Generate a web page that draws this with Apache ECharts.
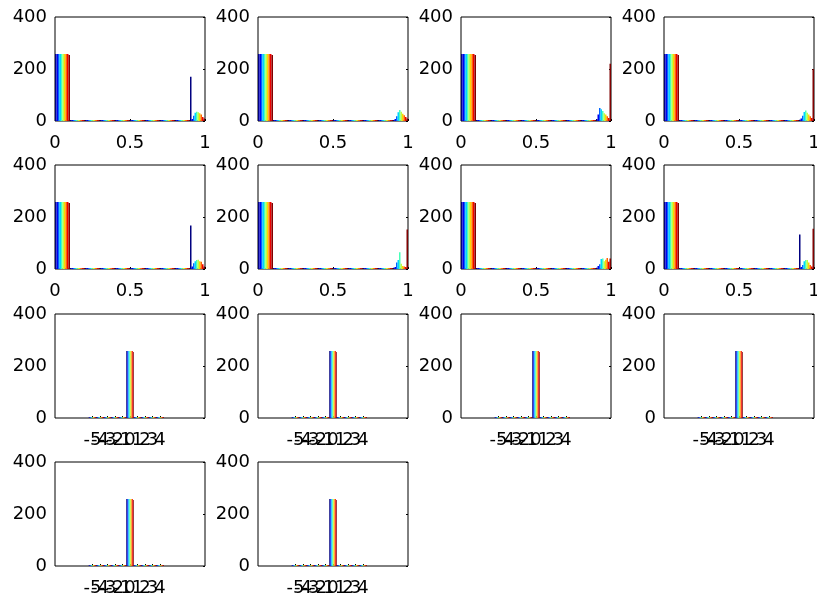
<!DOCTYPE html>
<html>
<head>
<meta charset="utf-8">
<script src="https://cdn.jsdelivr.net/npm/echarts@6/dist/echarts.min.js"></script>
<style>
html,body{margin:0;padding:0;background:#fff;}
#c{width:817px;height:600px;}
</style>
</head>
<body>
<div id="c"></div>
<script>
// ---- data ----
// bin centres
const binsFrac = [0.05, 0.15, 0.25, 0.35, 0.45, 0.55, 0.65, 0.75, 0.85, 0.95];
const binsInt = [-5, -4, -3, -2, -1, 0, 1, 2, 3, 4];
// x positions of the integer axis (axis runs -10 .. 10)
const xCatsInt = ['-10','-9','-8','-7','-6','-5','-4','-3','-2','-1','0','1','2','3','4','5','6','7','8','9','10'];
// tick labels
const xTicksFrac = [0, 0.5, 1];
const xTicksInt = ['-5', '-4', '-3', '-2', '-1', '0', '1', '2', '3', '4'];
const yTicks = [0, 200, 400];

// counts: one row per bin, 10 values per row (one per column/series)
const hist1 = [
  [258,258,258,258,258,258,258,258,258,254],
  [0,0,0,0,0,0,0,0,0,0],
  [0,0,0,0,0,0,0,0,0,0],
  [0,0,0,0,0,0,0,0,0,0],
  [0,0,0,0,0,0,0,0,0,0],
  [0,0,0,0,0,0,0,0,0,0],
  [0,0,0,0,0,0,0,0,0,0],
  [0,0,0,0,0,0,0,0,0,0],
  [0,0,0,0,0,0,0,0,0,0],
  [170,8,20,32,36,34,30,25,15,10]
];
const hist2 = [
  [258,258,258,258,258,258,258,258,258,254],
  [0,0,0,0,0,0,0,0,0,0],
  [0,0,0,0,0,0,0,0,0,0],
  [0,0,0,0,0,0,0,0,0,0],
  [0,0,0,0,0,0,0,0,0,0],
  [0,0,0,0,0,0,0,0,0,0],
  [0,0,0,0,0,0,0,0,0,0],
  [0,0,0,0,0,0,0,0,0,0],
  [0,0,2,2,0,0,0,0,0,0],
  [4,8,18,34,42,36,28,22,15,10]
];
const hist3 = [
  [258,258,258,258,258,258,258,258,258,254],
  [0,0,0,0,0,0,0,0,0,0],
  [0,0,0,0,0,0,0,0,0,0],
  [0,0,0,0,0,0,0,0,0,0],
  [0,0,0,0,0,0,0,0,0,0],
  [0,0,0,0,0,0,0,0,0,0],
  [0,0,0,0,0,0,0,0,0,0],
  [0,0,0,0,0,0,0,0,0,0],
  [0,2,4,3,0,0,0,0,0,0],
  [8,25,50,45,38,30,25,18,12,220]
];
const hist4 = [
  [258,258,258,258,258,258,258,258,258,254],
  [0,0,0,0,0,0,0,0,0,0],
  [0,0,0,0,0,0,0,0,0,0],
  [0,0,0,0,0,0,0,0,0,0],
  [0,0,0,0,0,0,0,0,0,0],
  [0,0,0,0,0,0,0,0,0,0],
  [0,0,0,0,0,0,0,0,0,0],
  [0,0,0,0,0,0,0,0,0,0],
  [0,0,2,2,0,0,0,0,0,0],
  [5,10,20,35,40,32,25,18,12,200]
];
const hist5 = [
  [258,258,258,258,258,258,258,258,258,254],
  [0,0,0,0,0,0,0,0,0,0],
  [0,0,0,0,0,0,0,0,0,0],
  [0,0,0,0,0,0,0,0,0,0],
  [0,0,0,0,0,0,0,0,0,0],
  [0,0,0,0,0,0,0,0,0,0],
  [0,0,0,0,0,0,0,0,0,0],
  [0,0,0,0,0,0,0,0,0,0],
  [0,0,0,0,0,0,0,0,0,0],
  [167,10,22,30,35,36,30,28,18,10]
];
const hist6 = [
  [258,258,258,258,258,258,258,258,258,254],
  [0,0,0,0,0,0,0,0,0,0],
  [0,0,0,0,0,0,0,0,0,0],
  [0,0,0,0,0,0,0,0,0,0],
  [0,0,0,0,0,0,0,0,0,0],
  [0,0,0,0,0,0,0,0,0,0],
  [0,0,0,0,0,0,0,0,0,0],
  [0,0,0,0,0,0,0,0,0,0],
  [0,2,3,0,0,0,0,0,0,0],
  [5,8,25,35,64,20,12,10,8,152]
];
const hist7 = [
  [258,258,258,258,258,258,258,258,258,254],
  [0,0,0,0,0,0,0,0,0,0],
  [0,0,0,0,0,0,0,0,0,0],
  [0,0,0,0,0,0,0,0,0,0],
  [0,0,0,0,0,0,0,0,0,0],
  [0,0,0,0,0,0,0,0,0,0],
  [0,0,0,0,0,0,0,0,0,0],
  [0,0,0,0,0,0,0,0,0,0],
  [0,2,3,2,0,0,0,0,0,0],
  [5,12,18,38,40,30,36,42,28,40]
];
const hist8 = [
  [258,258,258,258,258,258,258,258,258,254],
  [0,0,0,0,0,0,0,0,0,0],
  [0,0,0,0,0,0,0,0,0,0],
  [0,0,0,0,0,0,0,0,0,0],
  [0,0,0,0,0,0,0,0,0,0],
  [0,0,0,0,0,0,0,0,0,0],
  [0,0,0,0,0,0,0,0,0,0],
  [0,0,0,0,0,0,0,0,0,0],
  [0,0,0,0,0,0,0,0,0,0],
  [133,8,15,30,35,35,25,15,10,155]
];
const hist9 = [
  [0,0,0,0,0,0,0,0,0,0],
  [0,0,0,0,0,0,0,0,0,0],
  [0,0,0,0,0,0,0,0,0,0],
  [0,0,0,0,0,0,0,0,0,0],
  [0,0,0,0,0,0,0,0,0,0],
  [258,258,258,258,258,258,258,258,258,254],
  [0,0,0,0,0,0,0,0,0,0],
  [0,0,0,0,0,0,0,0,0,0],
  [0,0,0,0,0,0,0,0,0,0],
  [0,0,0,0,0,0,0,0,0,0]
];
const hist10 = [
  [0,0,0,0,0,0,0,0,0,0],
  [0,0,0,0,0,0,0,0,0,0],
  [0,0,0,0,0,0,0,0,0,0],
  [0,0,0,0,0,0,0,0,0,0],
  [0,0,0,0,0,0,0,0,0,0],
  [258,258,258,258,258,258,258,258,258,254],
  [0,0,0,0,0,0,0,0,0,0],
  [0,0,0,0,0,0,0,0,0,0],
  [0,0,0,0,0,0,0,0,0,0],
  [0,0,0,0,0,0,0,0,0,0]
];
const hist11 = [
  [0,0,0,0,0,0,0,0,0,0],
  [0,0,0,0,0,0,0,0,0,0],
  [0,0,0,0,0,0,0,0,0,0],
  [0,0,0,0,0,0,0,0,0,0],
  [0,0,0,0,0,0,0,0,0,0],
  [258,258,258,258,258,258,258,258,258,254],
  [0,0,0,0,0,0,0,0,0,0],
  [0,0,0,0,0,0,0,0,0,0],
  [0,0,0,0,0,0,0,0,0,0],
  [0,0,0,0,0,0,0,0,0,0]
];
const hist12 = [
  [0,0,0,0,0,0,0,0,0,0],
  [0,0,0,0,0,0,0,0,0,0],
  [0,0,0,0,0,0,0,0,0,0],
  [0,0,0,0,0,0,0,0,0,0],
  [0,0,0,0,0,0,0,0,0,0],
  [258,258,258,258,258,258,258,258,258,254],
  [0,0,0,0,0,0,0,0,0,0],
  [0,0,0,0,0,0,0,0,0,0],
  [0,0,0,0,0,0,0,0,0,0],
  [0,0,0,0,0,0,0,0,0,0]
];
const hist13 = [
  [0,0,0,0,0,0,0,0,0,0],
  [0,0,0,0,0,0,0,0,0,0],
  [0,0,0,0,0,0,0,0,0,0],
  [0,0,0,0,0,0,0,0,0,0],
  [0,0,0,0,0,0,0,0,0,0],
  [258,258,258,258,258,258,258,258,258,254],
  [0,0,0,0,0,0,0,0,0,0],
  [0,0,0,0,0,0,0,0,0,0],
  [0,0,0,0,0,0,0,0,0,0],
  [0,0,0,0,0,0,0,0,0,0]
];
const hist14 = [
  [0,0,0,0,0,0,0,0,0,0],
  [0,0,0,0,0,0,0,0,0,0],
  [0,0,0,0,0,0,0,0,0,0],
  [0,0,0,0,0,0,0,0,0,0],
  [0,0,0,0,0,0,0,0,0,0],
  [258,258,258,258,258,258,258,258,258,254],
  [0,0,0,0,0,0,0,0,0,0],
  [0,0,0,0,0,0,0,0,0,0],
  [0,0,0,0,0,0,0,0,0,0],
  [0,0,0,0,0,0,0,0,0,0]
];

// ---- styling / layout ----
const subplots = [hist1,hist2,hist3,hist4,hist5,hist6,hist7,hist8,hist9,hist10,hist11,hist12,hist13,hist14];
const palette = ['#000080','#0000F0','#0064FF','#00D4FF','#47FFB8','#B8FF47','#FFD400','#FF6400','#F00000','#800000'];
const lefts = [55, 258, 461, 664];
const tops = [17, 165, 314, 462];
const W = 150, H = 104;
const font = {fontFamily: 'DejaVu Sans', fontSize: 18, color: '#000'};
const xLabelMargin = 13;

const grids = [], xAxes = [], yAxes = [], series = [];
subplots.forEach((sp, i) => {
  const r = Math.floor(i / 4), c = i % 4;
  const frac = r < 2;
  grids.push({left: lefts[c], top: tops[r], width: W, height: H, show: true,
    outerBoundsMode: 'none', containLabel: false,
    borderColor: '#000', borderWidth: 1, backgroundColor: '#fff'});
  if (frac) {
    xAxes.push({gridIndex: i, type: 'value', min: 0, max: 1,
      axisLine: {show: false, onZero: false}, splitLine: {show: false},
      axisTick: {show: true, inside: true, length: 2, customValues: xTicksFrac, lineStyle: {color: '#000'}},
      axisLabel: Object.assign({customValues: xTicksFrac, margin: xLabelMargin, verticalAlign: 'top', hideOverlap: false,
        showMinLabel: true, showMaxLabel: true}, font)});
  } else {
    xAxes.push({gridIndex: i, type: 'category', data: xCatsInt, boundaryGap: false,
      axisLine: {show: false, onZero: false}, splitLine: {show: false},
      axisTick: {show: true, inside: true, length: 2, lineStyle: {color: '#000'},
        interval: (idx, val) => xTicksInt.indexOf(val) >= 0},
      axisLabel: Object.assign({interval: 0, margin: xLabelMargin, verticalAlign: 'top', hideOverlap: false,
        formatter: v => (xTicksInt.indexOf(v) >= 0 ? v : '')}, font)});
  }
  yAxes.push({gridIndex: i, type: 'value', min: 0, max: 400, interval: 200, position: 'left',
    axisLine: {show: false}, splitLine: {show: false}, axisTick: {show: false},
    axisLabel: Object.assign({margin: 8}, font)});
  yAxes.push({gridIndex: i, type: 'value', min: 0, max: 400, interval: 200, position: 'right',
    axisLine: {show: false}, splitLine: {show: false},
    axisTick: {show: true, inside: true, length: 2, lineStyle: {color: '#000'}},
    axisLabel: {show: false}});
  for (let s = 0; s < palette.length; s++) {
    let data;
    if (frac) {
      data = binsFrac.map((b, k) => [b, sp[k][s]]);
    } else {
      data = xCatsInt.map(cv => {
        const k = binsInt.indexOf(Number(cv));
        return k >= 0 ? sp[k][s] : null;
      });
    }
    series.push({type: 'bar', xAxisIndex: i, yAxisIndex: 2 * i, data: data,
      barGap: '0%', barCategoryGap: '0%', barMinHeight: 1, barMinWidth: 0.1,
      itemStyle: {color: palette[s]}, silent: true, animation: false});
  }
});

const chart = echarts.init(document.getElementById('c'), null, {renderer: 'canvas'});
chart.setOption({animation: false, backgroundColor: '#fff', grid: grids, xAxis: xAxes, yAxis: yAxes, series: series});
</script>
</body>
</html>
